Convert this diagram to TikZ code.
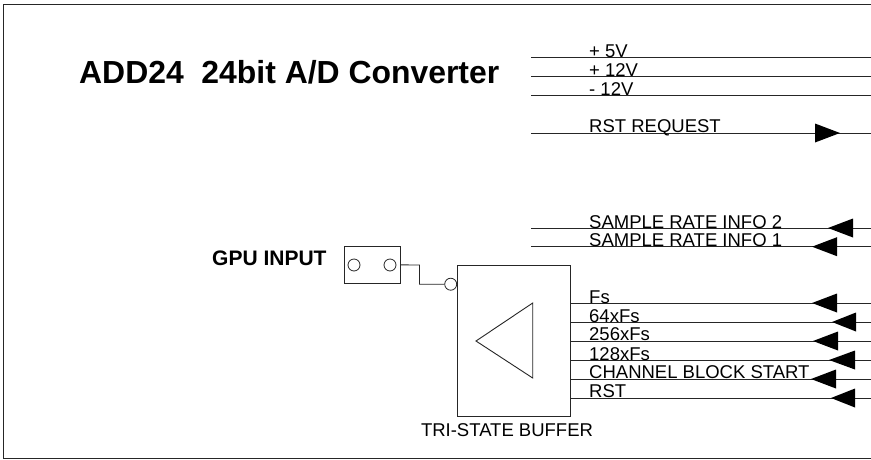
\documentclass[tikz,border=0pt]{standalone}
\usepackage{fontspec}
\setmainfont{Liberation Sans}
\tikzset{
  x=1pt,y=-1pt,
  wire/.style={line width=0.9pt,draw=black!85},
  lbl/.style={inner sep=0pt,anchor=base west,font=\fontsize{18.5}{20}\selectfont},
  head/.style={fill=black,draw=none},
  pin/.style={circle,draw=black!85,line width=0.8pt,minimum size=12pt,inner sep=0pt,fill=white},
  open/.style={circle,draw=black!85,line width=0.8pt,minimum size=12pt,inner sep=0pt},
}
\newcommand{\sigline}[5]{% name, y, left x, label, label baseline
  \coordinate (l#1) at (#3,#2);
  \coordinate (r#1) at (871,#2);
  \draw[wire] (l#1) -- (r#1);
  \node[lbl] (t#1) at (589,#5) {#4};
}
\newcommand{\lhead}[3]{\fill[head] (#1,#3) -- (#2,#3-9.5) -- (#2,#3+9.5) -- cycle;}
\begin{document}
\begin{tikzpicture}
\useasboundingbox (0,0) rectangle (871,459);
\fill[white] (0,0) rectangle (871,459);
\coordinate (bA) at (871,4);
\coordinate (bB) at (3,4);
\coordinate (bC) at (3,458);
\coordinate (bD) at (871,458);
\draw[wire] (bA) -- (bB) -- (bC) -- (bD);
\node[inner sep=0pt,anchor=base west,font=\bfseries\fontsize{31.9}{34}\selectfont] (title) at (79,83) {ADD24\ \ 24bit A/D Converter};
\sigline{a}{57.5}{531}{+ 5V}{57.5}
\sigline{b}{76.5}{531}{+ 12V}{76}
\sigline{c}{95}{531}{- 12V}{95}
\sigline{d}{133}{531}{RST REQUEST}{132}
\fill[head] (815,123.5) -- (840,133) -- (815,142.5) -- cycle;
\sigline{e}{228}{531}{SAMPLE RATE INFO 2}{228}
\sigline{f}{246.7}{531}{SAMPLE RATE INFO 1}{246}
\lhead{828}{853}{228}
\lhead{812}{837}{246.7}
\node[rectangle,draw=black!85,line width=0.9pt,minimum width=113.2pt,minimum height=151.7pt,inner sep=0pt] (buf) at (514.1,340.8) {};
\draw[wire] (476,341) -- (532.7,303) -- (532.7,378) -- cycle;
\node[inner sep=0pt,anchor=base,font=\fontsize{18.5}{20}\selectfont] (buflbl) at (507,436) {TRI-STATE BUFFER};
\node[rectangle,draw=black!85,line width=0.9pt,minimum width=56pt,minimum height=37.7pt,inner sep=0pt] (gpu) at (372,264.9) {};
\node[open] (c1) at (354,265) {};
\node[open] (c2) at (390,265) {};
\node[pin] (c3) at (450.7,284.2) {};
\coordinate (k1) at (419.5,265);
\coordinate (k2) at (419.5,284.2);
\draw[wire] (gpu.east) -- (k1) -- (k2) -- (c3.west);
\node[inner sep=0pt,anchor=base west,font=\bfseries\fontsize{21}{23}\selectfont] (gpul) at (212,265) {GPU INPUT};
\sigline{g}{303}{570.7}{Fs}{303}
\sigline{h}{322}{570.7}{64xFs}{322}
\sigline{i}{341}{570.7}{256xFs}{340.5}
\sigline{j}{360}{570.7}{128xFs}{360}
\sigline{k}{379}{570.7}{CHANNEL BLOCK START}{378}
\sigline{m}{398}{570.7}{RST}{397}
\lhead{812}{837}{303}
\lhead{832}{856}{322}
\lhead{813}{838}{341}
\lhead{829}{855}{360}
\lhead{811}{836}{379}
\lhead{831}{855}{398}
\end{tikzpicture}
\end{document}
